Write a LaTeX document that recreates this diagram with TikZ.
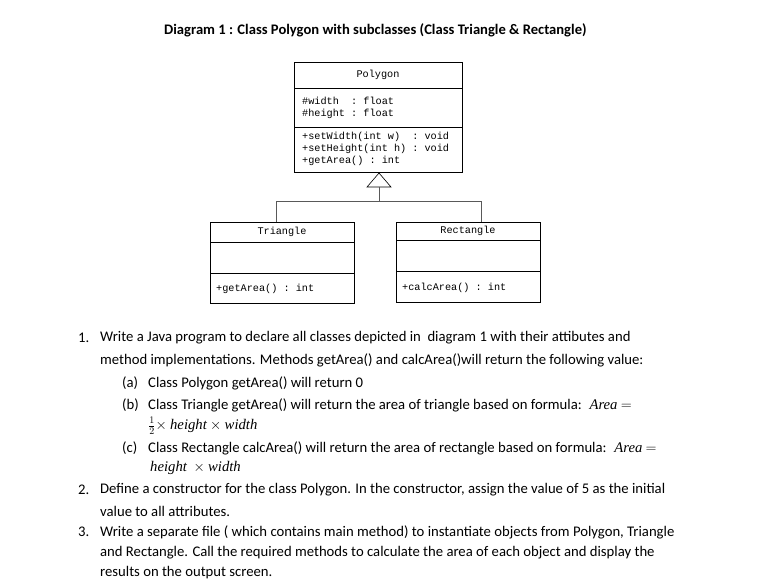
\documentclass[tikz,border=0pt]{standalone}
\usepackage{fontspec}
\setmainfont{Carlito}
\setmonofont{Liberation Mono}
\newfontfamily\mathitfont{Liberation Serif}
\newcommand{\mv}[1]{{\mathitfont\itshape #1}}
\begin{document}
\begin{tikzpicture}[x=1pt,y=-1pt,
  box/.style={draw,line width=0.6pt},
  mono/.style={font=\fontsize{10.2}{11.8}\selectfont\ttfamily,anchor=west,inner sep=0pt,align=left},
  txt/.style={font=\fontsize{14.7}{17}\selectfont,anchor=west,inner sep=0pt},
  conn/.style={draw,line width=0.6pt}]
\useasboundingbox (0,0) rectangle (771,587);
\node[font=\fontsize{14.6}{17}\selectfont\bfseries,anchor=west,inner sep=0pt] (title) at (164,30) {Diagram 1 : Class Polygon with subclasses (Class Triangle \& Rectangle)};
% Polygon
\draw[box] (294,62) rectangle (462,172);
\draw[box] (294,88) -- (462,88);
\draw[box] (294,127) -- (462,127);
\node[mono,anchor=center] (pn) at (378,75) {Polygon};
\node[mono] (pa) at (302,108) {\#width~~: float\\\#height : float};
\node[mono] (pm) at (302,149) {+setWidth(int w)~~: void\\+setHeight(int h) : void\\+getArea() : int};
\coordinate (apex) at (379,173);
\draw[conn] (apex) -- (367,187) -- (391,187) -- cycle;
% Triangle
\draw[box] (210,222) rectangle (354,303);
\draw[box] (210,242) -- (354,242);
\draw[box] (210,273) -- (354,273);
\node[mono,anchor=center] (tn) at (282,232) {Triangle};
\node[mono] (tm) at (216,289) {+getArea() : int};
% Rectangle
\draw[box] (396,222) rectangle (540,302);
\draw[box] (396,240) -- (540,240);
\draw[box] (396,271) -- (540,271);
\node[mono,anchor=center] (rn) at (468,231) {Rectangle};
\node[mono] (rm) at (402,288) {+calcArea() : int};
% connectors
\coordinate (j) at (379,201);
\draw[conn,gray!70!black] (379,187) -- (j);
\draw[conn,gray!70!black] (276,222) -- (276,201) -- (481,201) -- (481,222);
% text
\node[txt] (n1) at (78,338) {1.};
\node[txt] (l1) at (100,338) {Write a Java program to declare all classes depicted in\ \ diagram 1 with their attibutes and};
\node[txt] (l2) at (100,360) {method implementations. Methods getArea() and calcArea()will return the following value:};
\node[txt] (a) at (122,383) {(a)};
\node[txt] (la) at (148,383) {Class Polygon getArea() will return 0};
\node[txt] (b) at (122,405) {(b)};
\node[txt] (lb) at (148,405) {Class Triangle getArea() will return the area of triangle based on formula: \ \mv{Area} $=$};
\node[txt] (lb2) at (148,426) {$\frac{1}{2}\times$ \mv{height}\ $\times$ \mv{width}};
\node[txt] (c) at (122,448) {(c)};
\node[txt] (lc) at (148,448) {Class Rectangle calcArea() will return the area of rectangle based on formula: \ \mv{Area} $=$};
\node[txt] (lc2) at (150,468) {\mv{height}\ \ $\times$ \mv{width}};
\node[txt] (n2) at (78,490) {2.};
\node[txt] (m1) at (100,490) {Define a constructor for the class Polygon. In the constructor, assign the value of 5 as the initial};
\node[txt] (m2) at (100,511) {value to all attributes.};
\node[txt] (n3) at (78,532) {3.};
\node[txt] (k1) at (100,532) {Write a separate file ( which contains main method) to instantiate objects from Polygon, Triangle};
\node[txt] (k2) at (100,553) {and Rectangle. Call the required methods to calculate the area of each object and display the};
\node[txt] (k3) at (100,573) {results on the output screen.};
\end{tikzpicture}
\end{document}
